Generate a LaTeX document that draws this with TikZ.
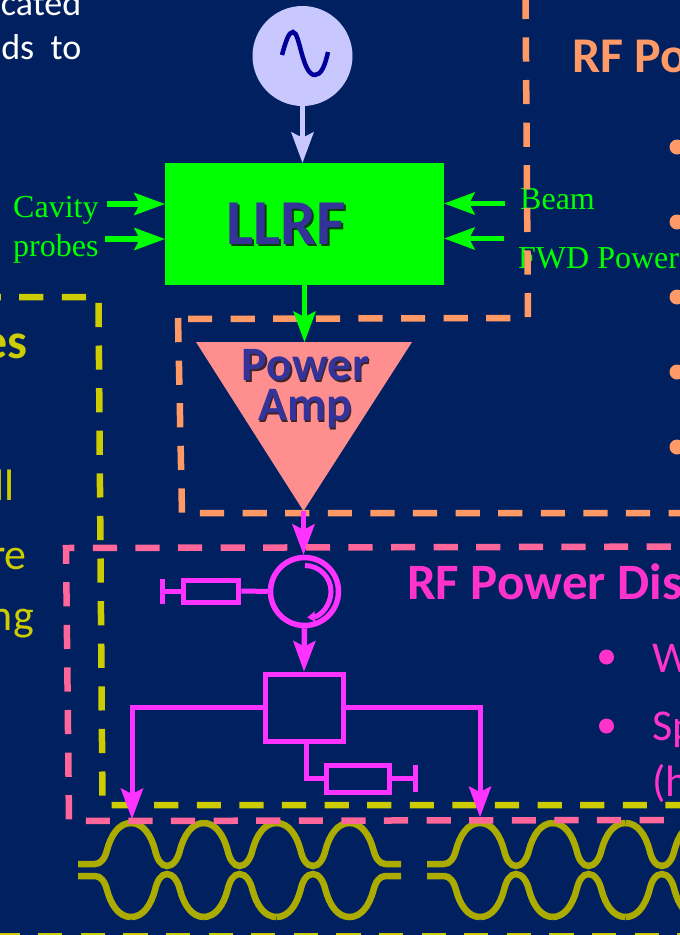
\documentclass[tikz,border=0pt]{standalone}
\usepackage{fontspec}
\setmainfont{Carlito}
\newfontfamily\labelfont{Liberation Serif}
\usepackage{xcolor}
\usetikzlibrary{arrows.meta, calc, shapes.geometric}

\definecolor{slidebg}{HTML}{002060}
\definecolor{oscfill}{HTML}{C8C8FF}
\definecolor{oscwave}{HTML}{000099}
\definecolor{lime}{HTML}{00FF00}
\definecolor{ampfill}{HTML}{FF8F8F}
\definecolor{boxtext}{HTML}{333399}
\definecolor{rforange}{HTML}{FF9966}
\definecolor{rfpink}{HTML}{FF6699}
\definecolor{rfyellow}{HTML}{CCCC00}
\definecolor{rfmagenta}{HTML}{FF33FF}
\definecolor{disttext}{HTML}{FF33CC}
\definecolor{cavcolor}{HTML}{ABAB00}

\tikzset{
    frameline/.style={line width=6.5pt, dash pattern=on 24.2pt off 18.4pt},
    bigtip/.style={-{Stealth[length=31pt, width=23pt, inset=6pt, line width=0pt]}},
    feed/.style={bigtip, line width=5.5pt, color=#1},
    rfline/.style={line width=5pt, color=rfmagenta},
    loadbox/.style={draw=rfmagenta, line width=5pt, rectangle, inner sep=0pt},
    loadbar/.style={fill=rfmagenta, rectangle, inner sep=0pt, minimum width=5pt, minimum height=25pt},
    probe/.style={anchor=base west, inner sep=0pt, text=lime, font=\labelfont\fontsize{32}{32}\selectfont},
    bodytext/.style={inner sep=0pt, text=#1, font=\fontsize{44}{44}\selectfont},
    headtext/.style={anchor=base west, inner sep=0pt, text=#1, font=\bfseries\fontsize{50}{50}\selectfont},
    bullet/.style={circle, fill=#1, inner sep=0pt, minimum size=15pt},
    cavline/.style={line width=6.5pt, color=cavcolor},
    pics/cavhalf/.style={code={
        \draw[cavline] (0,-6) -- (17,-6) .. controls (23,-6) and (27,-12) .. (29,-20)
            .. controls (33,-35) and (41,-47) .. (53,-47);
        \foreach \p in {126, 198.5} {
            \draw[cavline] ({\p-73},-47) .. controls ({\p-61},-47) and ({\p-53},-35) .. ({\p-49},-20)
                .. controls ({\p-47},-11) and ({\p-43},-4) .. ({\p-37},-4)
                .. controls ({\p-31},-4) and ({\p-26},-11) .. ({\p-24},-20)
                .. controls ({\p-20},-35) and ({\p-12},-47) .. (\p,-47);
        }
        \draw[cavline] (198.5,-47) .. controls (210.5,-47) and (218.5,-35) .. (222.5,-20)
            .. controls (224.5,-11) and (228.5,-4) .. (235,-4)
            .. controls (241,-4) and (245.5,-11) .. (247.5,-20)
            .. controls (251.5,-35) and (259.5,-47) .. (271.5,-47)
            .. controls (283.5,-47) and (291.5,-35) .. (295.5,-20)
            .. controls (297.5,-12) and (301.5,-6) .. (307.5,-6) -- (323,-6);
    }}
}

\begin{document}
\begin{tikzpicture}[x=1pt, y=-1pt]
    \useasboundingbox (0, 0) rectangle (680, 935);
    \clip (0, 0) rectangle (680, 935);
    \fill[slidebg] (0, 0) rectangle (680, 935);

    % slide text behind the diagram
    \node[bodytext=white, anchor=base east, font=\fontsize{36}{36}\selectfont] (textcated) at (81.5, 15) {cated};
    \node[bodytext=white, anchor=base east, font=\fontsize{36}{36}\selectfont] (textds) at (81.5, 59) {ds\ \ to};
    \node[headtext=rforange] (headorange) at (572, 72) {RF Po};
    \node[bullet=rforange] (dota) at (677, 147) {};
    \node[bullet=rforange] (dotb) at (677, 222) {};
    \node[bullet=rforange] (dotc) at (677, 297) {};
    \node[bullet=rforange] (dotd) at (677, 372) {};
    \node[bullet=rforange] (dote) at (677, 447) {};
    \node[headtext=rfyellow, anchor=base east] (headyellow) at (27.5, 358) {es};
    \node[bodytext=rfyellow, anchor=base east] (textll) at (15, 500) {ll};
    \node[bodytext=rfyellow, anchor=base east] (textre) at (27, 569) {re};
    \node[bodytext=rfyellow, anchor=base east] (textng) at (34, 630) {ng};
    \node[headtext=disttext, font=\bfseries\fontsize{51}{51}\selectfont] (headpink) at (407, 599.5) {RF Power Dis};
    \node[bullet=disttext] (dotf) at (606.5, 657) {};
    \node[bullet=disttext] (dotg) at (606.5, 726) {};
    \node[bodytext=disttext, anchor=base west] (textw) at (652, 672) {W};
    \node[bodytext=disttext, anchor=base west] (textsp) at (652, 740) {Sp};
    \node[bodytext=disttext, anchor=base west] (texth) at (652, 796) {(h};

    % dashed frames
    \draw[frameline, rfyellow] (-23.4, 297) -- (98.5, 297) -- (102.5, 805) -- (700, 805);
    \draw[frameline, rfyellow] (-4.5, 936) -- (700, 936);
    \pic at (78, 870) {cavhalf};
    \pic[yscale=-1] at (78, 870) {cavhalf};
    \pic at (427, 870) {cavhalf};
    \pic[yscale=-1] at (427, 870) {cavhalf};

    % oscillator and LLRF
    \node[circle, fill=oscfill, inner sep=0pt, minimum size=100pt] (osc) at (302.5, 56) {};
    \draw[oscwave, line width=4.5pt] (282, 55) .. controls (286, 40) and (289, 32) .. (293, 32)
        .. controls (300, 32) and (302, 75) .. (315, 75) .. controls (321, 75) and (325, 66) .. (328, 52);
    \node[rectangle, fill=lime, inner sep=0pt, minimum width=279pt, minimum height=122pt] (llrf) at (304.5, 224) {};
    \node[anchor=base, inner sep=0pt, text=black, opacity=0.75, font=\bfseries\fontsize{64}{64}\selectfont] (llrfshadow) at (288, 246) {LLRF};
    \node[anchor=base, inner sep=0pt, text=boxtext, font=\bfseries\fontsize{64}{64}\selectfont] (llrflabel) at (286, 244.5) {LLRF};

    \node[probe] (cavity) at (13, 217) {Cavity};
    \node[probe] (probes) at (13, 256.5) {probes};
    \node[probe] (beam) at (520, 209) {Beam};
    \node[probe] (fwd) at (518, 268) {FWD Power};
    \coordinate (inA) at (107, 204);
    \coordinate (inB) at (105, 239);
    \coordinate (inC) at (505, 203.5);
    \coordinate (inD) at (504, 238.5);

    % power amp
    \coordinate (ampA) at (196, 342);
    \coordinate (ampB) at (412, 342);
    \coordinate (ampC) at (303.5, 511);
    \fill[ampfill] (ampA) -- (ampB) -- (ampC) -- cycle;
    \node[anchor=base, inner sep=0pt, text=black, opacity=0.75, font=\bfseries\fontsize{48}{48}\selectfont] (powershadow) at (307, 382) {Power};
    \node[anchor=base, inner sep=0pt, text=boxtext, font=\bfseries\fontsize{48}{48}\selectfont] (powerlabel) at (305.5, 380.5) {Power};
    \node[anchor=base, inner sep=0pt, text=black, opacity=0.75, font=\bfseries\fontsize{48}{48}\selectfont] (ampshadow) at (306.5, 422) {Amp};
    \node[anchor=base, inner sep=0pt, text=boxtext, font=\bfseries\fontsize{48}{48}\selectfont] (amplabel) at (305, 420.5) {Amp};
    \draw[frameline, rforange] (525.5, -5.2) -- (528, 318) -- (178, 319);
    \draw[frameline, rforange] (178, 318) -- (182, 513) -- (700, 513);

    % distribution
    \node[circle, draw=rfmagenta, line width=5.5pt, inner sep=0pt, minimum size=68pt] (circ) at (304.5, 591.5) {};
    \draw[rfline, -{Stealth[length=8pt, width=11pt, inset=1pt, line width=0pt]}] (305, 565.5)
        arc[start angle=-90, end angle=85, radius=26];
    \node[loadbox, minimum width=55pt, minimum height=22pt] (loadA) at (211.3, 591) {};
    \node[loadbar] (barA) at (162.5, 591) {};
    \draw[rfline] (barA) -- (loadA);
    \draw[rfline] (loadA) -- (circ);
    \node[loadbox, minimum width=78pt, minimum height=67pt] (coupler) at (304, 707.5) {};
    \node[loadbox, minimum width=63pt, minimum height=27pt] (loadB) at (357.5, 778.5) {};
    \node[loadbar, minimum height=27pt] (barB) at (415.5, 778.5) {};
    \draw[rfline] (loadB) -- (barB);
    \draw[rfline] ($(coupler.south)+(2, 0)$) |- (loadB.west);
    \coordinate (tipA) at (132, 819);
    \coordinate (tipB) at (480, 817);

    % arrows
    \draw[feed=oscfill] (osc) -- (llrf.north -| osc);
    \draw[feed=lime] (inA) -- (llrf.west |- inA);
    \draw[feed=lime] (inB) -- (llrf.west |- inB);
    \draw[feed=lime] (inC) -- (llrf.east |- inC);
    \draw[feed=lime] (inD) -- (llrf.east |- inD);
    \draw[feed=lime] (llrf.south) -- (llrf.south |- ampA);
    \draw[feed=rfmagenta] (ampC) -- (circ.north -| ampC);
    \draw[feed=rfmagenta] (circ.south) -- (coupler.north);
    \draw[rfline, bigtip] (coupler.west) -| (tipA);
    \draw[rfline, bigtip] (coupler.east) -| (tipB);

    \draw[frameline, rfpink] (713.4, 546.5) -- (66, 548) -- (69, 821) -- (700, 820);
\end{tikzpicture}
\end{document}
